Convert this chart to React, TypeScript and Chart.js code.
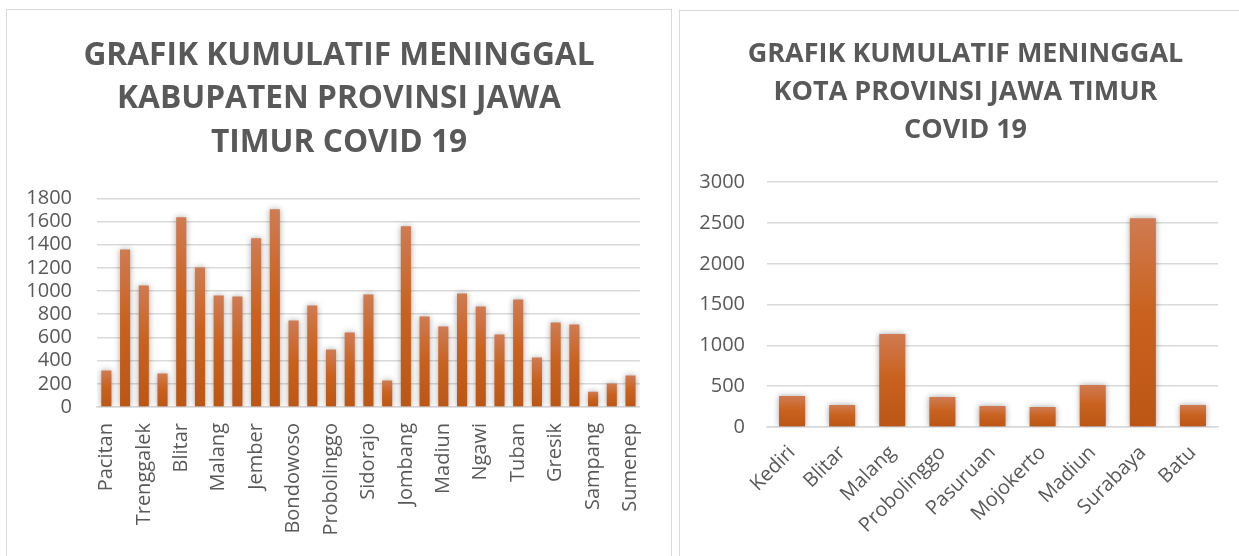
import React, { useEffect, useRef } from "react";
import { Chart, registerables } from "chart.js";

Chart.register(...registerables);

const kabLabels = [
  "Pacitan", "Ponorogo", "Trenggalek", "Tulungagung", "Blitar", "Kediri", "Malang", "Lumajang",
  "Jember", "Banyuwangi", "Bondowoso", "Situbondo", "Probolinggo", "Pasuruan", "Sidorajo",
  "Mojokerto", "Jombang", "Nganjuk", "Madiun", "Magetan", "Ngawi", "Bojonegoro", "Tuban",
  "Lamongan", "Gresik", "Bangkalan", "Sampang", "Pamekasan", "Sumenep",
];
const kabValues = [
  314, 1359, 1048, 288, 1636, 1204, 962, 953, 1455, 1705, 746, 876, 495, 642, 970,
  228, 1558, 781, 694, 979, 867, 625, 927, 426, 729, 711, 132, 202, 271,
];
const kabTitle = ["GRAFIK KUMULATIF MENINGGAL", "KABUPATEN PROVINSI JAWA", "TIMUR COVID 19"];
const kabTicks = [0, 200, 400, 600, 800, 1000, 1200, 1400, 1600, 1800];

const kotaLabels = ["Kediri", "Blitar", "Malang", "Probolinggo", "Pasuruan", "Mojokerto", "Madiun", "Surabaya", "Batu"];
const kotaValues = [380, 269, 1139, 367, 257, 245, 514, 2559, 269];
const kotaTitle = ["GRAFIK KUMULATIF MENINGGAL", "KOTA PROVINSI JAWA TIMUR", "COVID 19"];
const kotaTicks = [0, 500, 1000, 1500, 2000, 2500, 3000];

const TEXT = "#595959";
const GRID = "#d9d9d9";

const shadowPlugin = {
  id: "barShadow",
  beforeDatasetsDraw(chart: any) {
    const c = chart.ctx;
    c.save();
    c.shadowColor = "rgba(0,0,0,0.35)";
    c.shadowBlur = 6;
    c.shadowOffsetX = 0;
    c.shadowOffsetY = 0;
  },
  afterDatasetsDraw(chart: any) {
    chart.ctx.restore();
  },
};

function barGradient(ctx: any) {
  const chart = ctx.chart;
  const { chartArea, scales } = chart;
  if (!chartArea || ctx.type !== "data" || !scales.y) return "#c55a11";
  const v = ctx.raw as number;
  const top = scales.y.getPixelForValue(v);
  const bottom = scales.y.getPixelForValue(0);
  if (!isFinite(top) || !isFinite(bottom) || top === bottom) return "#c55a11";
  const g = chart.ctx.createLinearGradient(0, top, 0, bottom);
  g.addColorStop(0, "#d07b52");
  g.addColorStop(0.45, "#c9621f");
  g.addColorStop(1, "#bc5615");
  return g;
}

interface Cfg {
  labels: string[];
  values: number[];
  title: string[];
  ticks: number[];
  width: number;
  height: number;
  yWidth: number;
  xHeight: number;
  padRight: number;
  titleSize: number;
  titleLine: number;
  titlePadTop: number;
  titlePadBottom: number;
  rotation: number;
  xPad: number;
  yPad: number;
  everyOther: boolean;
  barPct: number;
}

function BarChart({ cfg }: { cfg: Cfg }) {
  const ref = useRef<HTMLCanvasElement | null>(null);
  useEffect(() => {
    if (!ref.current) return;
    const tickMax = cfg.ticks[cfg.ticks.length - 1];
    const step = cfg.ticks[1] - cfg.ticks[0];
    const chart = new Chart(ref.current, {
      type: "bar",
      data: {
        labels: cfg.labels,
        datasets: [
          {
            data: cfg.values,
            backgroundColor: barGradient as any,
            borderWidth: 0,
            barPercentage: cfg.barPct,
            categoryPercentage: 1,
          },
        ],
      },
      plugins: [shadowPlugin],
      options: {
        responsive: false,
        animation: false,
        devicePixelRatio: 1,
        layout: { padding: 0 },
        plugins: {
          legend: { display: false },
          tooltip: { enabled: false },
          title: {
            display: true,
            text: cfg.title,
            color: TEXT,
            font: { family: "'Open Sans'", size: cfg.titleSize, weight: "bold", lineHeight: cfg.titleLine },
            padding: { top: cfg.titlePadTop, bottom: cfg.titlePadBottom },
          },
        },
        scales: {
          x: {
            grid: { display: false, drawTicks: false },
            border: { display: true, color: GRID, width: 1.5 },
            afterFit: (scale: any) => {
              scale.height = cfg.xHeight;
            },
            ticks: {
              autoSkip: false,
              minRotation: cfg.rotation,
              maxRotation: cfg.rotation,
              padding: cfg.xPad,
              color: TEXT,
              font: { family: "'Open Sans'", size: 20 },
              callback: (_v: any, i: number) => (cfg.everyOther && i % 2 === 1 ? "" : cfg.labels[i]),
            },
          },
          y: {
            min: 0,
            max: tickMax,
            grid: { color: GRID, lineWidth: 1.5, drawTicks: false },
            border: { display: false },
            afterFit: (scale: any) => {
              scale.width = cfg.yWidth;
            },
            afterBuildTicks: (scale: any) => {
              scale.ticks = cfg.ticks.map((v) => ({ value: v }));
            },
            ticks: {
              autoSkip: false,
              stepSize: step,
              padding: cfg.yPad,
              color: TEXT,
              font: { family: "'Open Sans'", size: 20 },
              callback: (v: any) => String(v),
            },
          },
          spacer: {
            type: "linear",
            position: "right",
            display: true,
            grid: { display: false, drawTicks: false },
            border: { display: false },
            ticks: { display: false },
            afterFit: (scale: any) => {
              scale.width = cfg.padRight;
            },
          },
        },
      },
    });
    return () => chart.destroy();
  }, [cfg]);
  return <canvas ref={ref} width={cfg.width} height={cfg.height} style={{ display: "block" }} />;
}

const leftCfg: Cfg = {
  labels: kabLabels,
  values: kabValues,
  title: kabTitle,
  ticks: kabTicks,
  width: 664,
  height: 546,
  yWidth: 90,
  xHeight: 149,
  padRight: 28,
  titleSize: 31.7,
  titleLine: 1.37,
  titlePadTop: 24,
  titlePadBottom: 34,
  rotation: 90,
  xPad: 16,
  yPad: 25,
  everyOther: true,
  barPct: 0.54,
};

const rightCfg: Cfg = {
  labels: kotaLabels,
  values: kotaValues,
  title: kotaTitle,
  ticks: kotaTicks,
  width: 571,
  height: 545,
  yWidth: 87,
  xHeight: 129,
  padRight: 33,
  titleSize: 27,
  titleLine: 1.41,
  titlePadTop: 24,
  titlePadBottom: 33,
  rotation: 45,
  xPad: 14,
  yPad: 22,
  everyOther: false,
  barPct: 0.52,
};

export default function App() {
  return (
    <div style={{ position: "fixed", left: 0, top: 0, width: 1239, height: 556, background: "#fff", overflow: "hidden" }}>
      <div
        style={{
          position: "absolute",
          left: 6,
          top: 9,
          width: 664,
          height: 560,
          border: `1px solid ${GRID}`,
          background: "#fff",
        }}
      >
        <BarChart cfg={leftCfg} />
      </div>
      <div
        style={{
          position: "absolute",
          left: 679,
          top: 10,
          width: 571,
          height: 560,
          border: `1px solid ${GRID}`,
          background: "#fff",
        }}
      >
        <BarChart cfg={rightCfg} />
      </div>
    </div>
  );
}
